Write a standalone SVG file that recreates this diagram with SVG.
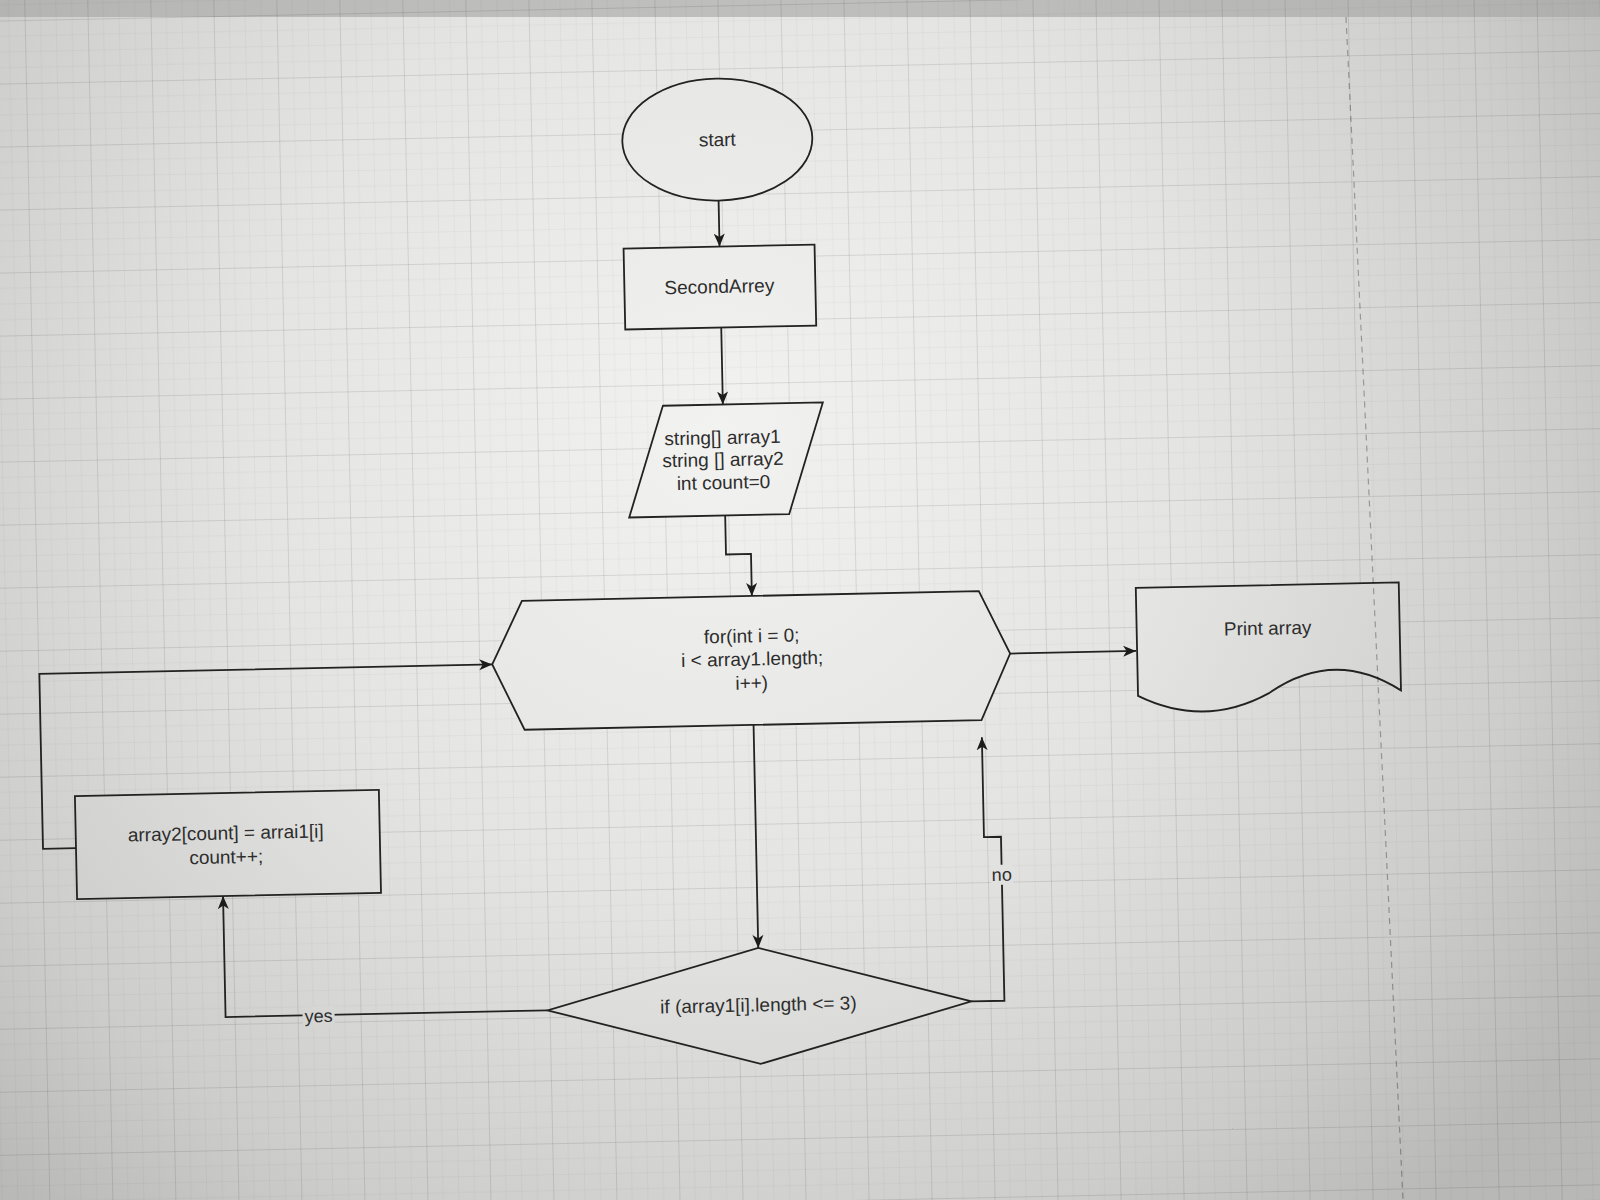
<svg xmlns="http://www.w3.org/2000/svg" width="1600" height="1200" viewBox="0 0 1600 1200">
  <defs>
    <radialGradient id="screen" gradientUnits="userSpaceOnUse" cx="720" cy="430" r="1050">
      <stop offset="0" stop-color="#f2f2f0"/>
      <stop offset="0.45" stop-color="#e4e4e2"/>
      <stop offset="0.8" stop-color="#cdcecc"/>
      <stop offset="1" stop-color="#b8b9b7"/>
    </radialGradient>
    <pattern id="grid" patternUnits="userSpaceOnUse" x="38" y="5" width="63" height="63">
      <path d="M15.75 0V63M31.5 0V63M47.25 0V63M0 15.75H63M0 31.5H63M0 47.25H63" stroke="#000" stroke-opacity="0.045" stroke-width="0.8" fill="none"/>
      <path d="M0.5 0V63M0 0.5H63" stroke="#000" stroke-opacity="0.1" stroke-width="1" fill="none"/>
    </pattern>
    <marker id="arrow" viewBox="0 0 14 12" refX="13" refY="6" markerWidth="14" markerHeight="12" markerUnits="userSpaceOnUse" orient="auto">
      <path d="M0,0.5 L13,6 L0,11.5 L3.5,6 Z" fill="#1c1c1c"/>
    </marker>
  </defs>
  <style>
    .node { fill: url(#screen); stroke: #222; stroke-width: 1.8; }
    .edge { fill: none; stroke: #222; stroke-width: 1.8; }
    .label-bg { fill: url(#screen); stroke: none; }
    text { font-family: "Liberation Sans", Arial, sans-serif; font-size: 19px; fill: #2d2d2d; text-anchor: middle; dominant-baseline: central; }
    .small { font-size: 18px; }
  </style>

  <!-- screen background -->
  <rect x="0" y="0" width="1600" height="1200" fill="url(#screen)"/>
  <rect x="0" y="0" width="1600" height="17" fill="#a3a4a2" fill-opacity="0.6"/>

  <g transform="rotate(-1.2 750 650)">
    <!-- canvas grid -->
    <rect x="-200" y="-200" width="2000" height="1600" fill="url(#grid)"/>

    <!-- connectors -->
    <g id="connectors">
      <path class="edge" d="M728,200 V246" marker-end="url(#arrow)"/>
      <path class="edge" d="M728,327 V404" marker-end="url(#arrow)"/>
      <path class="edge" d="M728,515 V554 H753 V596" marker-end="url(#arrow)"/>
      <path class="edge" d="M1010,659 H1136" marker-end="url(#arrow)"/>
      <path class="edge" d="M752,725 V948" marker-end="url(#arrow)"/>
      <path class="edge" d="M540,1006 H218 V885" marker-end="url(#arrow)"/>
      <path class="edge" d="M72,834 H39 V659 H492" marker-end="url(#arrow)"/>
      <path class="edge" d="M964,1006 H997 V842 H980 V742" marker-end="url(#arrow)"/>
      <rect class="label-bg" x="295" y="997" width="32" height="20"/>
      <text class="small" x="311" y="1007">yes</text>
      <rect class="label-bg" x="986" y="870" width="22" height="20"/>
      <text class="small" x="997" y="880">no</text>
    </g>

    <g id="start">
      <ellipse class="node" cx="728" cy="139" rx="95" ry="61"/>
      <text x="728" y="139">start</text>
    </g>

    <g id="second-arrey">
      <rect class="node" x="632" y="246" width="191" height="81"/>
      <text x="727" y="286">SecondArrey</text>
    </g>

    <g id="declarations">
      <polygon class="node" points="668,404 828,404 792,515 632,515"/>
      <text x="727" y="437">string[] array1</text>
      <text x="727" y="459">string [] array2</text>
      <text x="727" y="482">int count=0</text>
    </g>

    <g id="for-loop">
      <polygon class="node" points="492,659 523,596 980,596 1010,659 980,725 523,725"/>
      <text x="752" y="636">for(int i = 0;</text>
      <text x="752" y="659">i &lt; array1.length;</text>
      <text x="751" y="683">i++)</text>
    </g>

    <g id="print-array">
      <path class="node" d="M1137,596 L1400,596 L1400,704 Q1334,660 1268,704 Q1203,738 1137,704 Z"/>
      <text x="1268" y="639">Print array</text>
    </g>

    <g id="copy-item">
      <rect class="node" x="72" y="782" width="304" height="103"/>
      <text x="222" y="822">array2[count] = arrai1[i]</text>
      <text x="222" y="846">count++;</text>
    </g>

    <g id="length-check">
      <polygon class="node" points="752,948 964,1006 752,1064 540,1006"/>
      <text x="751" y="1005">if (array1[i].length &lt;= 3)</text>
    </g>
  </g>

  <!-- page break marker -->
  <line x1="1346" y1="17" x2="1403" y2="1200" stroke="#000" stroke-opacity="0.3" stroke-width="1.2" stroke-dasharray="6 5"/>
</svg>
